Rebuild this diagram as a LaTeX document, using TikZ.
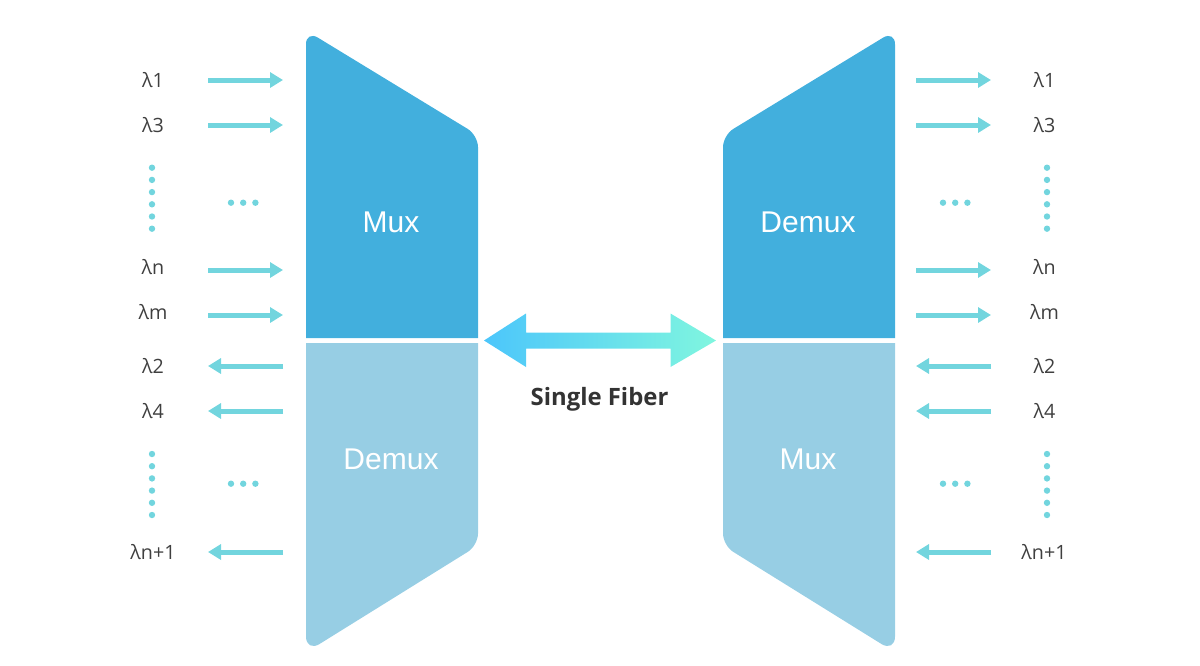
\documentclass[tikz,border=0pt]{standalone}
\usepackage{fontspec}
\setmainfont{Open Sans}
\newfontfamily\blockfont{Liberation Sans}
\usetikzlibrary{arrows.meta}
\definecolor{muxdark}{HTML}{42AFDD}
\definecolor{muxlight}{HTML}{97CEE4}
\definecolor{sigteal}{HTML}{72D5DE}
\definecolor{labelgray}{HTML}{3F3F3F}
\definecolor{fiberdark}{HTML}{333333}
\definecolor{fiberleft}{HTML}{4CC6FB}
\definecolor{fibermid}{HTML}{55E8F6}
\definecolor{fiberright}{HTML}{80F6DF}
\tikzset{
  lamlabel/.style={inner sep=0pt, text=labelgray, text height=14pt, text depth=0pt,
    font=\fontsize{19.7}{24}\selectfont},
  blocklabel/.style={inner sep=0pt, text=white, text height=21pt, text depth=0pt,
    font=\blockfont\fontsize{30}{34}\selectfont},
  sigarrow/.style={-{Triangle[length=13pt,width=15pt]}, line width=5pt, sigteal},
  sigdots/.style={line width=6.4pt, sigteal, line cap=round, dash pattern=on 0pt off 12.2pt},
}
\begin{document}
\begin{tikzpicture}[x=1pt, y=-1pt]
  \useasboundingbox (0,0) rectangle (1200,665);
  % Left blocks
  \fill[muxdark] (306,338) -- (306,50) [rounded corners=14pt] -- (306,30.4) [rounded corners=12pt] -- (478,135.2) [sharp corners] -- (478,338) -- cycle;
  \fill[muxlight] (306,343) -- (306,630) [rounded corners=16pt] -- (306,652.4) [rounded corners=12pt] -- (478,545.5) [sharp corners] -- (478,343) -- cycle;
  \node[blocklabel] (muxa) at (391,222) {Mux};
  \node[blocklabel] (demuxa) at (391,459) {Demux};
  % Right blocks
  \fill[muxdark] (895,338) -- (895,50) [rounded corners=14pt] -- (895,30.4) [rounded corners=12pt] -- (723,135.2) [sharp corners] -- (723,338) -- cycle;
  \fill[muxlight] (895,343) -- (895,630) [rounded corners=16pt] -- (895,652.4) [rounded corners=12pt] -- (723,545.5) [sharp corners] -- (723,343) -- cycle;
  \node[blocklabel] (demuxb) at (808,222) {Demux};
  \node[blocklabel] (muxb) at (808,459) {Mux};
  % Fiber arrow
  \shade[left color=fiberleft, middle color=fibermid, right color=fiberright]
    (484,340.5) -- (526,313.5) -- (526,332.5) -- (670.5,332.5) -- (670.5,313.5) -- (716,340.5)
    -- (670.5,367) -- (670.5,348.5) -- (526,348.5) -- (526,367) -- cycle;
  \node[inner sep=0pt, text=fiberdark, font=\bfseries\fontsize{23.9}{28}\selectfont] (fiber) at (599.5,399.5) {Single Fiber};
  % Left signals
  \node[lamlabel] (la) at (153,80) {λ1};
  \node[lamlabel] (lb) at (153,125) {λ3};
  \node[lamlabel] (lc) at (153,267) {λn};
  \node[lamlabel] (ld) at (153,312) {λm};
  \node[lamlabel] (le) at (153,366) {λ2};
  \node[lamlabel] (lf) at (153,411) {λ4};
  \node[lamlabel] (lg) at (153,552) {λn+1};
  \coordinate (lap) at (208,80);  \coordinate (laq) at (283,80);
  \coordinate (lbp) at (208,125); \coordinate (lbq) at (283,125);
  \coordinate (lcp) at (208,270); \coordinate (lcq) at (283,270);
  \coordinate (ldp) at (208,315); \coordinate (ldq) at (283,315);
  \coordinate (lep) at (208,366); \coordinate (leq) at (283,366);
  \coordinate (lfp) at (208,411); \coordinate (lfq) at (283,411);
  \coordinate (lgp) at (208,552); \coordinate (lgq) at (283,552);
  \draw[sigarrow] (lap) -- (laq);
  \draw[sigarrow] (lbp) -- (lbq);
  \draw[sigarrow] (lcp) -- (lcq);
  \draw[sigarrow] (ldp) -- (ldq);
  \draw[sigarrow] (leq) -- (lep);
  \draw[sigarrow] (lfq) -- (lfp);
  \draw[sigarrow] (lgq) -- (lgp);
  \draw[sigdots] (152,167.7) -- (152,235);
  \draw[sigdots] (152,454) -- (152,521);
  \draw[sigdots] (231,202.7) -- (262,202.7);
  \draw[sigdots] (231,483.7) -- (262,483.7);
  % Right signals
  \node[lamlabel] (ra) at (1044.5,80) {λ1};
  \node[lamlabel] (rb) at (1044.5,125) {λ3};
  \node[lamlabel] (rc) at (1044.5,267) {λn};
  \node[lamlabel] (rd) at (1044.5,312) {λm};
  \node[lamlabel] (re) at (1044.5,366) {λ2};
  \node[lamlabel] (rf) at (1044.5,411) {λ4};
  \node[lamlabel] (rg) at (1044,552) {λn+1};
  \coordinate (rap) at (916,80);  \coordinate (raq) at (991,80);
  \coordinate (rbp) at (916,125); \coordinate (rbq) at (991,125);
  \coordinate (rcp) at (916,270); \coordinate (rcq) at (991,270);
  \coordinate (rdp) at (916,315); \coordinate (rdq) at (991,315);
  \coordinate (rep) at (916,366); \coordinate (req) at (991,366);
  \coordinate (rfp) at (916,411); \coordinate (rfq) at (991,411);
  \coordinate (rgp) at (916,552); \coordinate (rgq) at (991,552);
  \draw[sigarrow] (rap) -- (raq);
  \draw[sigarrow] (rbp) -- (rbq);
  \draw[sigarrow] (rcp) -- (rcq);
  \draw[sigarrow] (rdp) -- (rdq);
  \draw[sigarrow] (req) -- (rep);
  \draw[sigarrow] (rfq) -- (rfp);
  \draw[sigarrow] (rgq) -- (rgp);
  \draw[sigdots] (1047,167.7) -- (1047,235);
  \draw[sigdots] (1047,454) -- (1047,521);
  \draw[sigdots] (943,202.7) -- (974,202.7);
  \draw[sigdots] (943,483.7) -- (974,483.7);
\end{tikzpicture}
\end{document}
